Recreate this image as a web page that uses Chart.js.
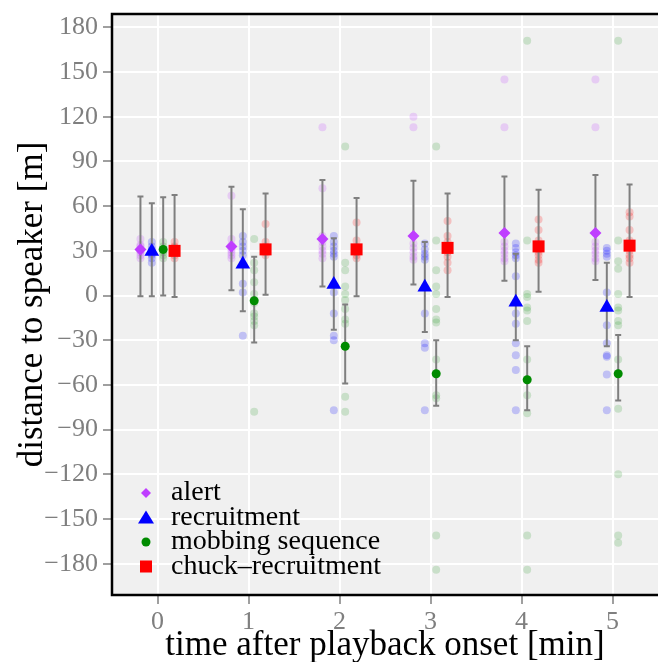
<!DOCTYPE html>
<html>
<head>
<meta charset="utf-8">
<script src="https://cdn.jsdelivr.net/npm/chart.js@4/dist/chart.umd.min.js"></script>
<style>
  html,body{margin:0;padding:0;background:#fff;}
  #wrap{width:658px;height:662px;}
</style>
</head>
<body>
<div id="wrap"><canvas id="c" width="658" height="662"></canvas></div>
<script>
// time steps and tick labels
const times = [0, 1, 2, 3, 4, 5];
const yTicks = [-180, -150, -120, -90, -60, -30, 0, 30, 60, 90, 120, 150, 180];

// group summaries (mean and interval per minute)
const alertMean = [31, 33, 38, 40, 42, 42];
const alertLo = [-0.5, 3.5, 6, 7.5, 10, 10.5];
const alertHi = [66.5, 73, 77.5, 77, 80, 81];

const recruitMean = [29.5, 21, 7.5, 5.5, -4.5, -8];
const recruitLo = [-0.5, -10.5, -23, -24.5, -30, -34];
const recruitHi = [62, 58, 38.5, 36, 28, 22];

const mobMean = [31, -3.5, -34, -52.5, -56.5, -52.5];
const mobLo = [0, -31.5, -59, -74, -77, -70.5];
const mobHi = [66, 26, -6, -30, -34, -26.5];

const chuckMean = [30, 31, 31, 32, 33, 33.5];
const chuckLo = [-1, 0.5, -0.5, -1, 2.5, -1];
const chuckHi = [67.5, 68.5, 65.5, 68.5, 71, 74.5];

// raw observations per minute
const alertPts = [
  [38, 34, 31, 31, 29, 27, 25, 33, 30],
  [67, 38, 34, 33, 31, 29, 27, 25],
  [113, 72, 40, 36, 33, 30, 28, 25],
  [120, 113, 40, 35, 32, 29, 26, 24],
  [145, 113, 36, 33, 30, 28, 25, 23],
  [145, 113, 36, 33, 30, 28, 25, 23]
];
const recruitPts = [
  [36, 33, 30, 27, 25, 22, 28, 31],
  [40, 36, 33, 30, 27, 8, 2, -27],
  [40, 36, 33, 30, 28, 26, 2, -12, -27, -30, -77],
  [35, 31, 28, 26, 24, -12, -32, -35, -77],
  [35, 32, 29, 27, 25, 13, -12, -19, -32, -40, -50, -77],
  [32, 30, 28, 26, 2, -20, -32, -40, -41, -53, -77]
];
const mobPts = [
  [36, 33, 31, 29, 27, 25, 30],
  [38, 22, 17, 9, 1, -5, -12, -14, -17, -20, -78],
  [100, 22, 17, 6, 1, -3, -9, -16, -19, -68, -78],
  [100, 37, 17, 6, 1, -9, -16, -18, -43, -67, -69, -161, -184],
  [171, 37, 1, -1, -8, -10, -17, -43, -67, -79, -161, -184],
  [171, 37, 23, 18, 1, -8, -10, -17, -20, -43, -76, -120, -161, -166]
];
const chuckPts = [
  [36, 33, 31, 29, 27, 25, 30, 32],
  [48, 36, 33, 31, 29, 27, 30],
  [49, 37, 31, 29, 27, 25, 30],
  [50, 40, 36, 32, 29, 26, 22, 17],
  [51, 44, 37, 34, 31, 29, 27, 24, 22],
  [56, 53, 44, 37, 33, 30, 27, 25, 22]
];

const groups = [
  {label:'alert', color:'#BF3EFF', fade:'rgba(191,62,255,0.2)', off:-0.1875, style:'rectRot', r:6, mean:alertMean, lo:alertLo, hi:alertHi, pts:alertPts},
  {label:'recruitment', color:'#0000FF', fade:'rgba(0,0,255,0.2)', off:-0.0625, style:'triangle', r:8.5, mean:recruitMean, lo:recruitLo, hi:recruitHi, pts:recruitPts},
  {label:'mobbing sequence', color:'#008B00', fade:'rgba(0,139,0,0.16)', off:0.0625, style:'circle', r:4.5, mean:mobMean, lo:mobLo, hi:mobHi, pts:mobPts},
  {label:'chuck\u2013recruitment', color:'#FF0000', fade:'rgba(255,0,0,0.2)', off:0.1875, style:'rect', r:8.5, mean:chuckMean, lo:chuckLo, hi:chuckHi, pts:chuckPts}
];

const SERIF = "'Liberation Serif', 'Times New Roman', serif";

// mean markers first (drawn on top), raw points after
const datasets = [];
groups.forEach(g => {
  datasets.push({
    label: g.label,
    data: times.map((t, i) => ({x: t + g.off, y: g.mean[i]})),
    pointStyle: g.style, pointRadius: g.r, pointBackgroundColor: g.color,
    pointBorderWidth: 0, borderColor: g.color, showLine: false
  });
});
groups.forEach(g => {
  const d = [];
  times.forEach((t, i) => g.pts[i].forEach(v => d.push({x: t + g.off, y: v})));
  datasets.push({
    label: g.label + ' obs', data: d, pointStyle: 'circle', pointRadius: 4,
    pointBackgroundColor: g.fade, pointBorderWidth: 0, showLine: false
  });
});

const panel = {
  id: 'panel',
  beforeDraw(chart) {
    const {ctx, chartArea: a} = chart;
    ctx.save();
    ctx.fillStyle = '#F0F0F0';
    ctx.fillRect(a.left, a.top, a.right - a.left, a.bottom - a.top);
    ctx.restore();
  },
  afterDatasetDraw(chart, args) {
    // error bars go between the raw points and the mean markers
    if (args.index !== groups.length) return;
    const {ctx, scales: {x, y}} = chart;
    ctx.save();
    ctx.strokeStyle = '#7F7F7F';
    ctx.lineWidth = 2;
    groups.forEach(g => {
      times.forEach((t, i) => {
        const px = x.getPixelForValue(t + g.off);
        const y1 = y.getPixelForValue(g.lo[i]);
        const y2 = y.getPixelForValue(g.hi[i]);
        ctx.beginPath();
        ctx.moveTo(px, y1); ctx.lineTo(px, y2);
        ctx.moveTo(px - 3, y1); ctx.lineTo(px + 3, y1);
        ctx.moveTo(px - 3, y2); ctx.lineTo(px + 3, y2);
        ctx.stroke();
      });
    });
    ctx.restore();
  },
  afterDraw(chart) {
    const {ctx, chartArea: a} = chart;
    ctx.save();
    ctx.strokeStyle = '#000';
    ctx.lineWidth = 2.5;
    ctx.beginPath();
    ctx.moveTo(a.right, a.top); ctx.lineTo(a.left, a.top);
    ctx.lineTo(a.left, a.bottom); ctx.lineTo(a.right, a.bottom);
    ctx.stroke();

    // legend, bottom-left inside the panel
    const lx = 146, ly0 = 493, step = 24.5;
    ctx.font = '28px ' + SERIF;
    ctx.textBaseline = 'middle';
    ctx.textAlign = 'left';
    groups.forEach((g, i) => {
      const cy = ly0 + i * step;
      ctx.fillStyle = g.color;
      ctx.beginPath();
      if (g.style === 'rectRot') {
        ctx.moveTo(lx, cy - 5); ctx.lineTo(lx + 5, cy); ctx.lineTo(lx, cy + 5); ctx.lineTo(lx - 5, cy);
      } else if (g.style === 'triangle') {
        ctx.moveTo(lx, cy - 7); ctx.lineTo(lx + 8, cy + 6); ctx.lineTo(lx - 8, cy + 6);
      } else if (g.style === 'circle') {
        ctx.arc(lx, cy, 4.5, 0, Math.PI * 2);
      } else {
        ctx.rect(lx - 6, cy - 6, 12, 12);
      }
      ctx.closePath();
      ctx.fill();
      ctx.fillStyle = '#000';
      ctx.fillText(g.label, 171, cy);
    });
    ctx.restore();
  }
};

new Chart(document.getElementById('c'), {
  type: 'scatter',
  data: {datasets: datasets},
  options: {
    responsive: false,
    animation: false,
    layout: {autoPadding: false, padding: {top: 14, left: 0, right: 0, bottom: 0}},
    plugins: {legend: {display: false}, tooltip: {enabled: false}},
    scales: {
      x: {
        type: 'linear', min: -0.5, max: 5.5,
        afterBuildTicks: ax => { ax.ticks = times.map(v => ({value: v})); },
        afterFit: ax => { ax.height = 67; ax.paddingLeft = 0; ax.paddingRight = 0; },
        grid: {color: '#FFFFFF', lineWidth: 2, tickColor: '#7F7F7F', tickLength: 9, tickWidth: 1.5},
        border: {display: false},
        ticks: {color: '#7F7F7F', padding: 3, font: {family: SERIF, size: 26}, maxRotation: 0},
        title: {display: true, text: 'time after playback onset [min]', color: '#000',
                font: {family: SERIF, size: 35, lineHeight: 0.9}, padding: {top: 0, bottom: 0}}
      },
      y: {
        type: 'linear', min: -201, max: 189,
        afterBuildTicks: ax => { ax.ticks = yTicks.map(v => ({value: v})); },
        afterFit: ax => { ax.width = 112; ax.paddingTop = 0; ax.paddingBottom = 0; },
        grid: {color: '#FFFFFF', lineWidth: 2, tickColor: '#7F7F7F', tickLength: 9, tickWidth: 1.5},
        border: {display: false},
        ticks: {color: '#7F7F7F', padding: 5, font: {family: SERIF, size: 26},
                callback: v => (v < 0 ? '\u2212' + Math.abs(v) : String(v))},
        title: {display: true, text: 'distance to speaker [m]', color: '#000',
                font: {family: SERIF, size: 35, lineHeight: 1.2}, padding: {top: 12, bottom: 0}}
      }
    }
  },
  plugins: [panel]
});
</script>
</body>
</html>
